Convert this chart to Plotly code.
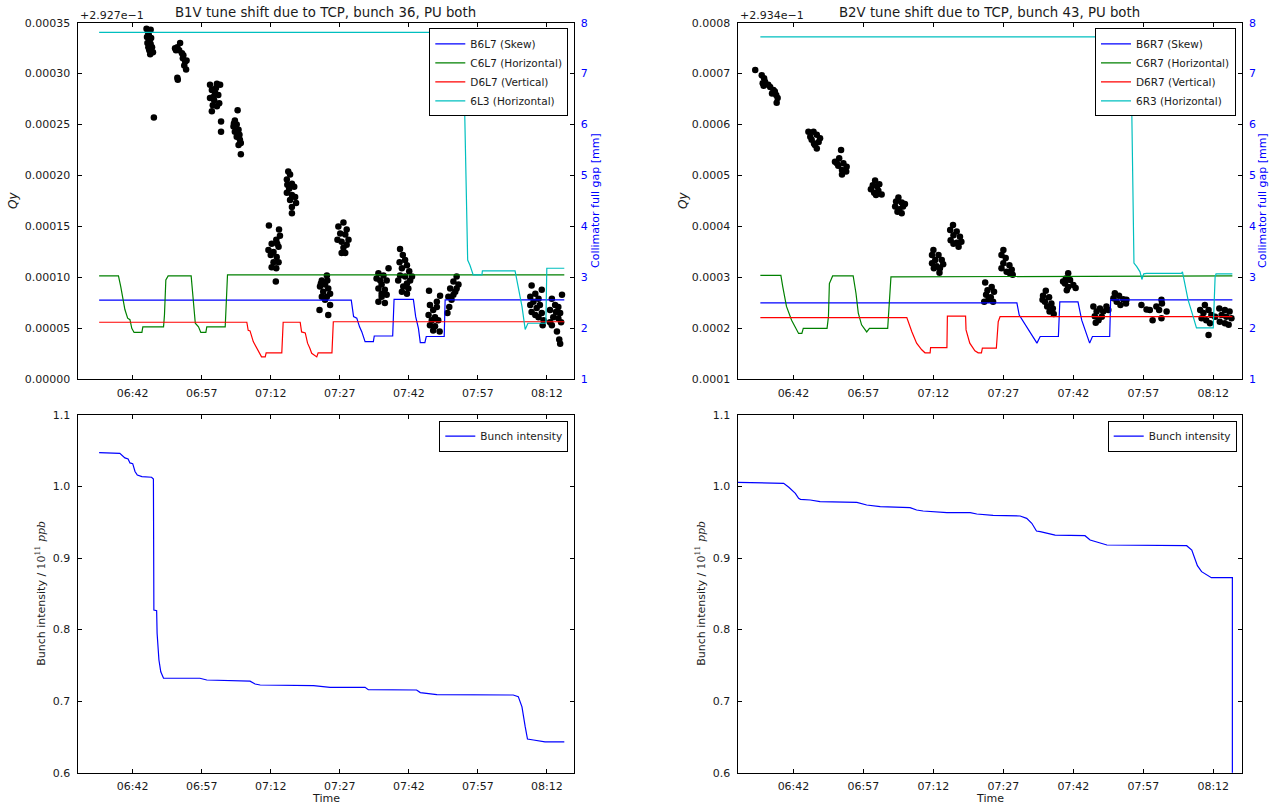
import pandas as pd
import plotly.graph_objects as go

W, H = 1272, 805
BASE = pd.Timestamp("2016-01-01 06:30:00")

# ---------------- tick labels ----------------
time_ticks = ["06:42", "06:57", "07:12", "07:27", "07:42", "07:57", "08:12"]

# ---------------- B1 (left column) ----------------
# Qy scatter: minutes after 06:30, offset from 0.2927 in units of 1e-5
b1_qy_t = [
    15.0, 15.3, 15.9, 15.1, 15.5, 15.2, 15.7, 15.4, 15.9, 15.6, 16.2, 16.4, 15.8, 16.0, 16.6,
    21.2, 21.7, 22.3, 22.1, 22.7, 22.9, 23.4, 23.2, 23.7, 23.6, 21.7, 21.8, 21.4, 23.0,
    28.8, 30.3, 31.0, 29.2, 29.9, 30.6, 28.8, 29.7, 30.8, 29.4, 30.3, 29.2, 31.2, 31.2, 30.1, 29.5,
    34.8, 34.2, 33.9, 34.6, 35.0, 34.2, 35.2, 34.6, 35.3, 35.5, 35.0, 35.5, 34.0,
    41.6, 43.8, 44.0, 43.2, 42.2, 41.5, 42.6, 43.7, 42.0, 43.3, 42.6, 43.7, 42.2, 43.2, 43.1, 43.4,
    45.8, 46.2, 45.5, 46.6, 46.0, 47.1, 45.5, 46.6, 47.3, 46.2, 47.5, 46.6, 46.6, 45.6,
    54.2, 53.1, 53.8, 52.7, 54.5, 53.4, 54.9, 53.1, 54.2, 53.8, 54.9, 52.6, 54.5, 52.9, 54.3,
    57.8, 56.7, 58.5, 57.1, 58.2, 56.5, 58.9, 57.4, 58.5, 57.8, 58.2, 57.4,
    65.4, 67.6, 66.5, 65.8, 67.2, 66.1, 65.4, 66.8, 66.1, 67.2, 65.4, 66.8, 66.1, 65.0,
    70.1, 70.7, 71.2, 70.0, 71.6, 70.5, 72.1, 70.1, 71.2, 72.7, 69.7, 71.6, 70.8, 71.9, 71.6, 70.5, 72.3,
    76.4, 78.8, 76.6, 78.1, 77.3, 76.3, 77.7, 77.0, 78.4, 76.6, 77.7, 77.3, 78.7, 78.1,
    82.4, 81.7, 82.8, 81.0, 82.1, 80.6, 81.7, 81.3, 80.8, 80.4, 82.4,
    98.7, 100.9, 99.5, 98.4, 100.2, 99.1, 100.5, 99.8, 98.7, 100.9, 99.5, 101.3, 100.2, 98.4, 101.1,
    103.1, 105.3, 103.8, 104.5, 102.7, 104.0, 104.9, 103.4, 104.5, 103.1, 104.2, 102.7, 104.7, 104.9, 105.1,
]
b1_qy_e5 = [
    34.4, 34.1, 34.3, 33.6, 33.8, 33.0, 33.3, 32.6, 32.9, 32.3, 32.6, 32.1, 31.9, 33.5, 25.7,
    32.5, 32.6, 33.0, 32.3, 32.0, 31.5, 31.2, 30.8, 31.3, 30.4, 29.6, 29.4, 32.3, 31.8,
    28.9, 29.0, 28.9, 28.4, 28.1, 27.9, 27.6, 27.4, 27.1, 26.9, 26.8, 26.3, 25.3, 24.3, 28.6, 27.7,
    26.4, 25.4, 24.8, 25.0, 24.5, 24.3, 24.0, 23.8, 23.5, 23.2, 23.0, 22.1, 25.1,
    15.1, 14.7, 14.1, 13.7, 13.3, 12.7, 12.5, 13.0, 12.2, 12.0, 11.5, 11.5, 11.0, 10.9, 9.6, 13.3,
    20.4, 20.1, 19.6, 19.2, 18.7, 18.9, 18.3, 18.1, 17.9, 17.6, 17.3, 16.9, 16.3, 19.1,
    10.2, 9.7, 9.3, 9.1, 8.9, 8.6, 8.4, 8.1, 8.1, 7.8, 7.3, 6.8, 6.3, 9.4, 9.7,
    15.4, 15.0, 14.7, 14.3, 14.2, 13.7, 13.7, 13.5, 13.2, 12.9, 12.4, 12.4,
    10.4, 10.9, 10.2, 9.7, 9.7, 9.3, 8.9, 8.8, 8.4, 8.3, 7.6, 7.5, 8.1, 9.9,
    12.8, 12.2, 11.7, 11.5, 11.2, 10.9, 10.6, 10.2, 10.1, 10.1, 9.7, 9.4, 9.1, 8.9, 8.4, 8.6, 9.7,
    8.7, 8.2, 7.3, 7.1, 6.8, 6.3, 6.1, 5.8, 5.8, 5.3, 5.2, 4.8, 4.7, 7.6,
    10.1, 9.6, 9.3, 8.9, 8.6, 8.1, 8.3, 7.8, 7.1, 6.5, 8.9,
    9.2, 8.8, 8.4, 8.1, 7.9, 7.6, 7.3, 7.0, 6.6, 6.5, 6.3, 5.8, 6.1, 7.3, 5.3,
    7.9, 8.3, 7.3, 7.1, 6.8, 6.6, 6.5, 6.1, 6.0, 5.3, 4.7, 5.6, 3.9, 3.5, 5.6,
]

# Collimator gaps B1 [mm]
b6l7_t = [4.7, 59.5, 60.0, 60.7, 61.3, 61.8, 62.5, 64.3, 64.5, 68.5, 68.8, 73.0, 73.5, 74.1, 74.5, 75.5, 75.8, 79.7, 79.9, 105.8]
b6l7_mm = [2.555, 2.555, 2.23, 2.20, 2.03, 1.93, 1.74, 1.74, 1.85, 1.85, 2.57, 2.57, 2.23, 2.0, 1.72, 1.72, 1.84, 1.84, 2.56, 2.56]
c6l7_t = [4.7, 8.9, 9.4, 10.0, 10.3, 10.9, 11.4, 11.8, 12.3, 14.0, 14.2, 18.7, 18.9, 19.2, 19.7, 24.7, 25.2, 25.6, 26.3, 26.8, 27.9, 28.1, 32.1, 32.3, 32.6, 105.8]
c6l7_mm = [3.03, 3.03, 2.82, 2.56, 2.37, 2.20, 2.17, 2.0, 1.92, 1.92, 2.03, 2.03, 2.26, 2.95, 3.03, 3.03, 2.56, 2.1, 2.03, 1.92, 1.92, 2.03, 2.03, 2.56, 3.05, 3.05]
d6l7_t = [4.7, 36.8, 37.1, 37.5, 38.2, 39.0, 39.5, 40.0, 40.8, 41.0, 44.4, 44.7, 48.4, 48.7, 49.5, 50.0, 50.5, 50.9, 52.0, 52.3, 55.3, 55.6, 105.8]
d6l7_mm = [2.12, 2.12, 1.96, 1.95, 1.74, 1.61, 1.51, 1.44, 1.44, 1.52, 1.52, 2.12, 2.12, 1.93, 1.91, 1.71, 1.61, 1.51, 1.44, 1.52, 1.52, 2.13, 2.13]
l3_6_t = [4.7, 83.9, 84.1, 84.4, 84.6, 84.8, 85.3, 86.0, 87.9, 88.0, 95.1, 95.6, 96.6, 97.3, 97.9, 101.8, 102.0, 105.8]
l3_6_mm = [7.81, 7.81, 6.48, 5.17, 3.8, 3.34, 3.24, 3.05, 3.05, 3.13, 3.13, 2.88, 2.43, 1.98, 2.10, 2.10, 3.18, 3.18]

# Bunch intensity B1 [1e11 ppb]
b1_int_t = [4.7, 9.2, 10.3, 11.0, 11.4, 12.0, 12.5, 13.0, 14.0, 16.1, 16.5, 16.6, 17.2, 17.3, 17.7, 18.1, 18.7, 26.6, 28.1,
            37.5, 38.6, 39.7, 51.3, 54.9, 62.5, 63.2, 73.7, 74.5, 78.1, 94.7, 95.8, 96.6, 97.3, 97.8, 99.1, 101.6, 105.8]
b1_int = [1.0473, 1.0464, 1.040, 1.0385, 1.033, 1.032, 1.021, 1.016, 1.0138, 1.013, 1.0105, 0.8274, 0.8265, 0.795, 0.7575,
          0.741, 0.732, 0.732, 0.7296, 0.728, 0.724, 0.7226, 0.7216, 0.7193, 0.7193, 0.716, 0.7156, 0.712, 0.709, 0.7086,
          0.7063, 0.692, 0.6643, 0.647, 0.6457, 0.643, 0.643]

# ---------------- B2 (right column) ----------------
b2_qy_t = [
    3.8, 5.2, 5.7, 5.4, 5.9, 5.6, 7.0, 7.7, 7.4, 8.3, 8.6, 8.4, 6.6, 8.0,
    15.2, 16.3, 17.0, 15.6, 17.7, 15.9, 17.4, 16.6, 17.0, 16.4,
    22.2, 21.8, 20.9, 22.7, 21.6, 23.4, 22.4, 23.3, 22.4, 21.3,
    29.5, 29.0, 29.9, 28.6, 30.2, 29.3, 30.9, 29.7, 30.4,
    34.5, 34.0, 35.2, 33.8, 35.5, 34.7, 35.2, 34.3, 35.9,
    42.0, 41.7, 43.1, 43.8, 42.4, 41.7, 44.1, 42.7, 43.4, 43.3, 42.1,
    46.2, 45.6, 47.0, 46.3, 47.7, 45.7, 48.0, 47.0, 47.4, 46.3,
    53.1, 54.5, 53.6, 55.0, 53.3, 54.3, 52.9, 54.8, 53.8,
    57.0, 56.6, 57.5, 57.0, 58.3, 56.6, 58.8, 57.7, 59.0, 58.4,
    66.1, 65.5, 66.8, 65.9, 67.3, 66.4, 67.6, 66.9, 67.8, 65.4,
    70.9, 70.4, 71.3, 70.2, 72.0, 70.9, 72.5, 70.6, 69.8,
    76.3, 77.7, 79.1, 77.0, 78.4, 76.6, 78.1, 77.4, 76.8, 79.5,
    80.9, 81.8, 80.6, 82.7, 81.3, 83.3, 82.1, 83.4,
    86.6, 87.7, 89.0, 89.8, 90.9, 91.0, 90.4, 92.0, 90.9, 88.4,
    100.2, 99.2, 101.0, 99.9, 101.6, 99.5, 100.5, 101.3, 101.0, 102.4,
    103.3, 104.5, 105.5, 103.8, 104.8, 105.9, 103.4, 104.5, 105.3,
]
b2_qy_e5 = [
    70.7, 69.7, 69.1, 68.1, 68.4, 67.6, 67.4, 66.8, 66.1, 65.8, 65.2, 64.3, 67.8, 66.5,
    58.6, 58.6, 58.0, 57.6, 57.3, 57.0, 56.6, 56.0, 55.3, 56.3,
    55.0, 53.4, 52.7, 52.4, 51.9, 51.7, 51.1, 50.8, 50.2, 52.4,
    49.0, 48.1, 47.9, 47.3, 47.0, 46.6, 46.3, 46.2, 48.3,
    45.7, 44.9, 44.7, 43.9, 43.9, 43.4, 42.6, 42.9, 44.4,
    35.4, 34.4, 34.4, 33.4, 33.4, 32.8, 32.6, 32.2, 31.8, 30.9, 31.8,
    40.3, 39.3, 39.0, 38.3, 38.0, 37.3, 37.0, 36.8, 36.0, 36.6,
    29.0, 28.1, 27.5, 27.2, 26.6, 26.1, 25.2, 25.2, 25.6,
    35.4, 34.4, 33.8, 32.8, 32.4, 31.8, 31.5, 31.1, 30.5, 30.8,
    27.4, 26.4, 26.1, 25.2, 24.9, 24.3, 23.9, 23.3, 22.8, 25.6,
    30.8, 29.8, 29.5, 28.8, 28.5, 28.1, 27.9, 27.5, 29.2,
    24.3, 23.9, 24.3, 23.3, 23.3, 22.4, 22.3, 21.6, 21.1, 23.6,
    26.9, 26.4, 25.9, 25.7, 25.2, 24.9, 24.6, 25.6,
    24.6, 23.7, 21.6, 24.3, 25.6, 24.9, 23.6, 23.3, 22.0, 23.6,
    24.6, 23.6, 23.6, 23.0, 22.6, 22.0, 21.6, 21.0, 18.7, 22.3,
    23.9, 23.6, 23.3, 22.6, 22.3, 22.0, 21.3, 21.0, 20.7,
]

b6r7_t = [4.9, 59.9, 60.4, 61.3, 62.7, 64.2, 64.9, 68.8, 69.1, 73.0, 73.8, 74.8, 75.5, 76.1, 79.8, 80.0, 106.1]
b6r7_mm = [2.50, 2.50, 2.26, 2.13, 1.93, 1.71, 1.84, 1.84, 2.52, 2.52, 2.16, 1.90, 1.71, 1.84, 1.84, 2.56, 2.56]
c6r7_t = [4.9, 9.3, 9.7, 10.5, 11.6, 12.6, 13.1, 13.8, 14.1, 19.2, 19.5, 19.7, 20.4, 24.8, 25.4, 25.9, 26.6, 27.7, 28.3, 32.2, 32.5, 32.9, 106.1]
c6r7_mm = [3.04, 3.04, 2.82, 2.43, 2.16, 2.0, 1.90, 1.90, 2.0, 2.0, 2.23, 2.88, 3.03, 3.03, 2.69, 2.30, 2.07, 1.93, 2.0, 2.0, 2.56, 3.01, 3.03]
d6r7_t = [4.9, 36.3, 37.4, 38.4, 39.5, 40.2, 41.3, 41.4, 44.9, 45.0, 48.9, 49.0, 49.8, 50.9, 51.6, 52.3, 52.5, 55.5, 55.9, 56.3, 106.1]
d6r7_mm = [2.21, 2.21, 1.93, 1.71, 1.58, 1.52, 1.52, 1.62, 1.62, 2.24, 2.24, 1.97, 1.71, 1.56, 1.52, 1.52, 1.61, 1.61, 2.13, 2.23, 2.23]
r3_6_t = [4.9, 84.3, 84.5, 84.7, 85.0, 85.6, 86.3, 86.7, 87.1, 87.7, 95.2, 95.4, 95.9, 96.6, 97.7, 98.4, 102.0, 102.4, 102.6, 106.1]
r3_6_mm = [7.72, 7.72, 6.48, 5.17, 3.28, 3.21, 3.11, 2.96, 3.07, 3.08, 3.08, 3.11, 2.88, 2.56, 2.23, 2.01, 2.01, 3.01, 3.07, 3.07]

b2_int_t = [0.0, 9.9, 11.0, 12.4, 13.1, 13.5, 15.6, 17.7, 25.6, 26.7, 27.7, 30.6, 37.0, 38.4, 39.8, 44.9, 49.9, 51.3, 54.8,
            60.6, 62.0, 63.1, 64.1, 64.9, 68.1, 74.5, 75.6, 79.2, 87.7, 96.3, 97.4, 98.1, 98.6, 99.5, 101.6, 106.1, 106.1]
b2_int = [1.0059, 1.0045, 0.9989, 0.9905, 0.9835, 0.9821, 0.9812, 0.9788, 0.9779, 0.9765, 0.9742, 0.9719, 0.9705, 0.9672,
          0.9658, 0.9635, 0.9635, 0.9616, 0.9597, 0.9588, 0.9555, 0.9486, 0.9378, 0.9369, 0.9322, 0.9313, 0.9253, 0.9183,
          0.9178, 0.9173, 0.9113, 0.8973, 0.8894, 0.881, 0.8726, 0.8726, 0.0]

# ---------------- helpers ----------------
def T(mins):
    return [BASE + pd.Timedelta(minutes=m) for m in mins]

def e5(vals):
    return [v * 1e-5 for v in vals]

FONT = "DejaVu Sans"
C_B, C_G, C_R, C_C = "#0000ff", "#008000", "#ff0000", "#00bfbf"

fig = go.Figure()

# B1 top
fig.add_trace(go.Scatter(x=T(b1_qy_t), y=e5(b1_qy_e5), mode="markers", marker=dict(color="black", size=6.5),
                         showlegend=False, xaxis="x", yaxis="y"))
for t, v, name, col in [(b6l7_t, b6l7_mm, "B6L7 (Skew)", C_B), (c6l7_t, c6l7_mm, "C6L7 (Horizontal)", C_G),
                        (d6l7_t, d6l7_mm, "D6L7 (Vertical)", C_R), (l3_6_t, l3_6_mm, "6L3 (Horizontal)", C_C)]:
    fig.add_trace(go.Scatter(x=T(t), y=v, mode="lines", name=name, line=dict(color=col, width=1.2),
                             xaxis="x", yaxis="y2", legend="legend"))

# B2 top
fig.add_trace(go.Scatter(x=T(b2_qy_t), y=e5(b2_qy_e5), mode="markers", marker=dict(color="black", size=6.5),
                         showlegend=False, xaxis="x2", yaxis="y3"))
for t, v, name, col in [(b6r7_t, b6r7_mm, "B6R7 (Skew)", C_B), (c6r7_t, c6r7_mm, "C6R7 (Horizontal)", C_G),
                        (d6r7_t, d6r7_mm, "D6R7 (Vertical)", C_R), (r3_6_t, r3_6_mm, "6R3 (Horizontal)", C_C)]:
    fig.add_trace(go.Scatter(x=T(t), y=v, mode="lines", name=name, line=dict(color=col, width=1.2),
                             xaxis="x2", yaxis="y4", legend="legend2"))

# intensities
fig.add_trace(go.Scatter(x=T(b1_int_t), y=b1_int, mode="lines", name="Bunch intensity",
                         line=dict(color=C_B, width=1.2), xaxis="x3", yaxis="y5", legend="legend3"))
fig.add_trace(go.Scatter(x=T(b2_int_t), y=b2_int, mode="lines", name="Bunch intensity",
                         line=dict(color=C_B, width=1.2), xaxis="x4", yaxis="y6", legend="legend4"))

# ---------------- layout ----------------
XL = [77.5 / W, 573.5 / W]
XR = [737.5 / W, 1241.7 / W]
YT = [1 - 379.3 / H, 1 - 22.7 / H]
YB = [1 - 772.7 / H, 1 - 415.0 / H]

tick_vals = [pd.Timestamp("2016-01-01 " + s + ":00") for s in time_ticks]
common = dict(showline=True, linecolor="black", linewidth=1, ticks="inside", ticklen=4, tickcolor="black",
              showgrid=False, zeroline=False, tickfont=dict(family=FONT, size=11, color="#1a1a1a"))

def xax(dom, anchor, end_min):
    return dict(common, domain=dom, anchor=anchor, type="date",
                range=[BASE, BASE + pd.Timedelta(minutes=end_min)],
                tickvals=tick_vals, ticktext=time_ticks, mirror="ticks", ticklabelstandoff=3)

qy_l_vals = [i * 5e-5 for i in range(8)]
qy_r_vals = [1e-4 + i * 1e-4 for i in range(8)]
gap_ticks = [1, 2, 3, 4, 5, 6, 7, 8]
int_ticks = [0.6, 0.7, 0.8, 0.9, 1.0, 1.1]

fig.update_layout(
    width=W, height=H, margin=dict(l=0, r=0, t=0, b=0, autoexpand=False),
    paper_bgcolor="white", plot_bgcolor="white", font=dict(family=FONT, size=11, color="#1a1a1a"),
    xaxis=xax(XL, "y", 107.8),
    xaxis2=xax(XR, "y3", 108.1),
    xaxis3=xax(XL, "y5", 107.8),
    xaxis4=xax(XR, "y6", 108.1),
    yaxis=dict(common, domain=YT, anchor="x", range=[0, 35e-5], tickvals=qy_l_vals,
               ticktext=["%.5f" % v for v in qy_l_vals], ticklabelstandoff=4),
    yaxis2=dict(common, overlaying="y", side="right", anchor="x", range=[1, 8], tickvals=gap_ticks,
                ticktext=[str(v) for v in gap_ticks], tickfont=dict(family=FONT, size=11, color="blue"),
                ticklabelstandoff=4),
    yaxis3=dict(common, domain=YT, anchor="x2", range=[1e-4, 8e-4], tickvals=qy_r_vals,
                ticktext=["%.4f" % v for v in qy_r_vals], ticklabelstandoff=4),
    yaxis4=dict(common, overlaying="y3", side="right", anchor="x2", range=[1, 8], tickvals=gap_ticks,
                ticktext=[str(v) for v in gap_ticks], tickfont=dict(family=FONT, size=11, color="blue"),
                ticklabelstandoff=4),
    yaxis5=dict(common, domain=YB, anchor="x3", range=[0.6, 1.1], tickvals=int_ticks,
                ticktext=["%.1f" % v for v in int_ticks], mirror="ticks", ticklabelstandoff=4),
    yaxis6=dict(common, domain=YB, anchor="x4", range=[0.6, 1.1], tickvals=int_ticks,
                ticktext=["%.1f" % v for v in int_ticks], mirror="ticks", ticklabelstandoff=4),
)

leg = dict(xanchor="right", yanchor="top", bordercolor="black", borderwidth=1, bgcolor="white",
           font=dict(family=FONT, size=10.5, color="#1a1a1a"), tracegroupgap=0)
fig.update_layout(
    legend=dict(leg, x=568.3 / W, y=1 - 28.3 / H),
    legend2=dict(leg, x=1236.0 / W, y=1 - 28.3 / H),
    legend3=dict(leg, x=568.3 / W, y=1 - 420.7 / H),
    legend4=dict(leg, x=1236.7 / W, y=1 - 420.7 / H),
)

def ann(text, x, y, size=11, color="#1a1a1a", angle=0, xanchor="center", yanchor="middle"):
    return dict(text=text, x=x / W, y=1 - y / H, xref="paper", yref="paper", showarrow=False,
                textangle=angle, xanchor=xanchor, yanchor=yanchor, font=dict(family=FONT, size=size, color=color))

int_label = ("Bunch intensity / <span style='font-family:DejaVu Serif'>10<sup>11</sup> <i>ppb</i></span>")
annotations = [
    ann("B1V tune shift due to TCP, bunch 36, PU both", 325.5, 12.5, size=13.3),
    ann("B2V tune shift due to TCP, bunch 43, PU both", 989.6, 12.5, size=13.3),
    ann("+2.927e\u22121", 77.5, 15, xanchor="left"),
    ann("+2.934e\u22121", 737.5, 15, xanchor="left"),
    ann("<i>Qy</i>", 13, 201, size=12, angle=-90),
    ann("<i>Qy</i>", 683, 201, size=12, angle=-90),
    ann("Collimator full gap [mm]", 595, 201, color="blue", angle=-90),
    ann("Collimator full gap [mm]", 1262, 201, color="blue", angle=-90),
    ann(int_label, 41, 593.8, angle=-90),
    ann(int_label, 701, 593.8, angle=-90),
    ann("Time", 325.5, 798.3),
    ann("Time", 989.6, 798.3),
]
fig.update_layout(annotations=annotations)

fig.write_html("out.html")
